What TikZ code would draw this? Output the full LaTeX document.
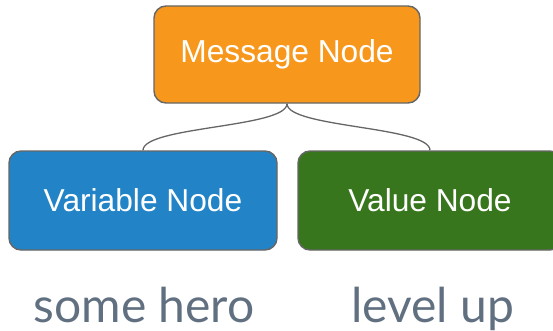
\documentclass[tikz,border=0pt]{standalone}
\usepackage{fontspec}
\setmainfont{Liberation Sans}
\newfontfamily\latofont{Lato}
\definecolor{msgorange}{HTML}{F7981D}
\definecolor{varblue}{HTML}{2284C6}
\definecolor{valgreen}{HTML}{38761D}
\definecolor{edgegray}{HTML}{666666}
\definecolor{labgray}{HTML}{617080}
\begin{document}
\begin{tikzpicture}[x=1pt,y=1pt,
  boxnode/.style={draw=edgegray, line width=1.4pt, rounded corners=12pt, text=white,
    font=\fontsize{31.7}{36}\selectfont, inner sep=0pt},
  conn/.style={draw=edgegray, line width=1.3pt},
  lab/.style={text=labgray, font=\latofont\fontsize{48}{54}\selectfont, anchor=base, inner sep=0pt, text depth=0pt}]
\useasboundingbox (0,0) rectangle (553,330);
\node[boxnode, fill=msgorange, minimum width=266pt, minimum height=97pt] (msg) at (287,275.5) {Message Node};
\node[boxnode, fill=varblue, minimum width=268pt, minimum height=99pt] (var) at (143,129.5) {Variable Node};
\node[boxnode, fill=valgreen, minimum width=264pt, minimum height=99pt] (val) at (430,129.5) {Value Node};
\draw[conn] (msg.south) .. controls +(0,-24) and +(0,24) .. (var.north);
\draw[conn] (msg.south) .. controls +(0,-24) and +(0,24) .. (val.north);
\node[lab] (hero) at (144,7.5) {some hero};
\node[lab] (lvl) at (432.5,7.5) {level up};
\end{tikzpicture}
\end{document}
